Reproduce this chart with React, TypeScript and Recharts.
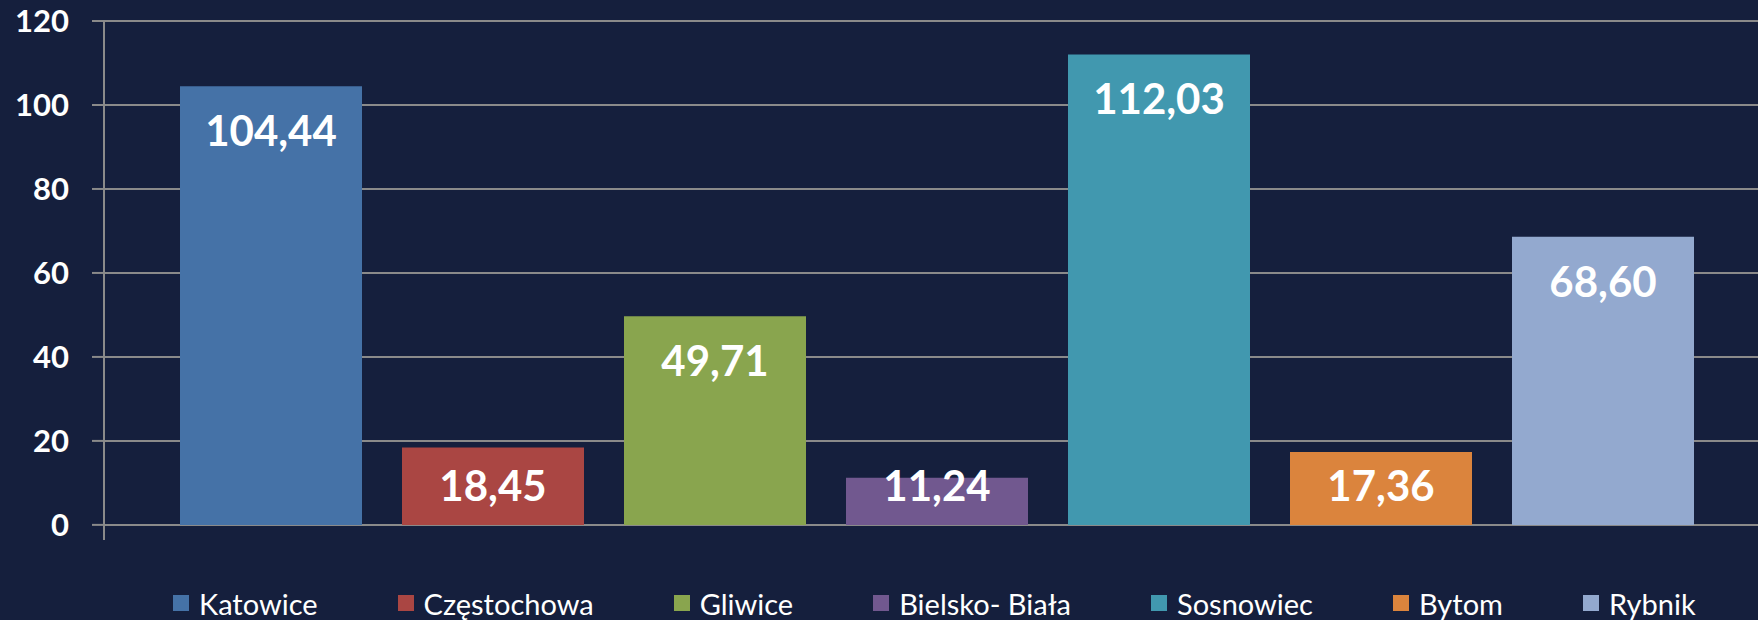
import React from 'react';
import { BarChart, Bar, Cell, XAxis, YAxis, CartesianGrid, Legend, LabelList } from 'recharts';

const categories = ['Katowice', 'Częstochowa', 'Gliwice', 'Bielsko- Biała', 'Sosnowiec', 'Bytom', 'Rybnik'];
const values = [104.44, 18.45, 49.71, 11.24, 112.03, 17.36, 68.6];
const barColors = ['#4572A7', '#AA4643', '#89A54E', '#71588F', '#4198AF', '#DB843D', '#93A9CF'];
const yTicks = [0, 20, 40, 60, 80, 100, 120];

const data = categories.map((name, i) => ({ name, value: values[i] }));

const BG = '#151F3D';
const GRID = '#8a8a8a';
const FONT = 'Lato, "Open Sans", sans-serif';

const formatPl = (v: number) => v.toFixed(2).replace('.', ',');

const renderLabel = (props: any) => {
  const { x, y, width, height, value } = props;
  if (x == null) return null;
  // Excel keeps the label near the bar top, but not lower than a fixed spot above the base
  const cy = Math.min(y + 44, y + height - 39.5);
  return (
    <text
      x={x + width / 2}
      y={cy}
      fill="#fff"
      fontFamily={FONT}
      fontWeight={700}
      fontSize={42}
      textAnchor="middle"
      dominantBaseline="central"
    >
      {formatPl(Number(value))}
    </text>
  );
};

const renderLegend = () => (
  <div
    style={{
      display: 'flex',
      alignItems: 'center',
      height: 34,
      paddingLeft: 173,
      gap: 80,
      fontFamily: FONT,
      fontSize: 29,
      color: '#fff',
      whiteSpace: 'nowrap',
    }}
  >
    {categories.map((c, i) => (
      <div key={c} style={{ display: 'flex', alignItems: 'center' }}>
        <span style={{ width: 16, height: 16, background: barColors[i], marginRight: 10, display: 'inline-block' }} />
        <span>{c}</span>
      </div>
    ))}
  </div>
);

export default function App() {
  return (
    <div style={{ position: 'absolute', left: 0, top: 0, width: 1758, height: 620, background: BG }}>
      <BarChart
        width={1758}
        height={620}
        data={data}
        margin={{ top: 21, right: 0, bottom: 46, left: 0 }}
        barCategoryGap={20}
      >
        <CartesianGrid
          vertical={false}
          stroke={GRID}
          strokeWidth={2}
          horizontalValues={yTicks}
        />
        <XAxis dataKey="name" hide padding={{ left: 56, right: 44 }} />
        <YAxis
          width={104}
          domain={[-3.6, 120]}
          ticks={yTicks}
          interval={0}
          axisLine={{ stroke: GRID, strokeWidth: 2 }}
          tickLine={{ stroke: GRID, strokeWidth: 2 }}
          tickSize={12}
          tickMargin={23}
          tick={{ fill: '#fff', fontSize: 31, fontWeight: 700, fontFamily: FONT }}
        />
        <Legend
          verticalAlign="bottom"
          height={34}
          content={renderLegend}
          wrapperStyle={{ bottom: 0, left: 0, width: 1758 }}
        />
        <Bar dataKey="value" isAnimationActive={false}>
          {data.map((d, i) => (
            <Cell key={d.name} fill={barColors[i]} />
          ))}
          <LabelList dataKey="value" content={renderLabel} />
        </Bar>
      </BarChart>
    </div>
  );
}
